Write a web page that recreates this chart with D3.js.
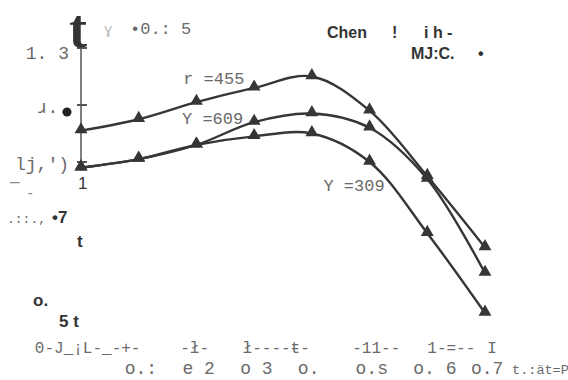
<!DOCTYPE html>
<html>
<head>
<meta charset="utf-8">
<script src="https://cdn.jsdelivr.net/npm/d3@7"></script>
<style>
  html, body { margin: 0; padding: 0; background: #fff; }
  svg { display: block; }
  .mono { font-family: "Liberation Mono", monospace; fill: #6a6a6a; white-space: pre; }
  .bold { font-family: "Liberation Sans", Arial, sans-serif; font-weight: bold; fill: #333; }
</style>
</head>
<body>
<div id="chart"></div>
<script>
// x values (0 .. 0.7) shared by every curve
const xValues = [0, 0.1, 0.2, 0.3, 0.4, 0.5, 0.6, 0.7];

// curves
const gamma45 = [1.01, 1.05, 1.11, 1.16, 1.20, 1.08, 0.85, 0.60];
const gamma60 = [0.88, 0.91, 0.96, 1.04, 1.07, 1.02, 0.84, 0.51];
const gamma30 = [0.88, 0.91, 0.96, 0.99, 1.00, 0.90, 0.65, 0.37];

const seriesNames = ['r =455', 'Y =609', 'Y =309'];

// tick labels as they came out of the scan
const xTickValues = [0.1, 0.2, 0.3, 0.4, 0.5, 0.6, 0.7];
const xTickLabels = ['o.:', 'e 2', 'o 3', 'o.', 'o.s', 'o. 6', 'o.7'];
const xAxisTitle = ' t.:ät=P';
const yTickValues = [1.3, 1.1, 0.9];
const yTickLabels = ['1. 3', 'ɹ..', 'lj,\')'];

// broken pieces of the x axis line
const axisPieceValues = [-0.08, 0.172, 0.28, 0.47, 0.6, 0.704];
const axisPieceLabels = ['0-J_¡L-_-+-', '-ł-', 'ł----ŧ-', '-11--', '1-=--', 'I'];

const width = 568, height = 380;

const svg = d3.select('#chart')
  .append('svg')
  .attr('width', width)
  .attr('height', height);

const x = d3.scaleLinear().domain([0, 0.7]).range([81, 485]);
const y = d3.scaleLinear().domain([0.2, 1.3]).range([361.5, 48]);

const ink = '#363636';

// y axis (only the upper part survived in the scan)
svg.append('line')
  .attr('x1', x(0)).attr('x2', x(0))
  .attr('y1', y(1.31)).attr('y2', y(0.87))
  .attr('stroke', '#555').attr('stroke-width', 1.5);

svg.selectAll('.ytick')
  .data(yTickValues)
  .enter()
  .append('line')
  .attr('class', 'ytick')
  .attr('x1', x(0) - 4).attr('x2', x(0) + 6)
  .attr('y1', d => y(d)).attr('y2', d => y(d))
  .attr('stroke', '#555').attr('stroke-width', 2);

svg.selectAll('.ylabel')
  .data(yTickValues)
  .enter()
  .append('text')
  .attr('class', 'mono')
  .attr('x', 69)
  .attr('y', (d, i) => y(d) + (i === 0 ? 11 : 8))
  .attr('text-anchor', 'end')
  .style('font-size', '18px')
  .text((d, i) => yTickLabels[i]);

// dot after the second label
svg.append('circle')
  .attr('cx', 67).attr('cy', y(1.1) + 7).attr('r', 4.5)
  .attr('fill', '#222');

svg.append('text').attr('class', 'bold')
  .attr('x', 78).attr('y', 189)
  .style('font-size', '17px').style('font-weight', 'normal')
  .text('1');

// lower left scraps
svg.append('text').attr('class', 'mono')
  .attr('x', 10).attr('y', 187).style('font-size', '16px').style('fill', '#888')
  .text('—');
svg.append('text').attr('class', 'mono')
  .attr('x', 26).attr('y', 198).style('font-size', '14px').style('fill', '#888')
  .text('-');
svg.append('text').attr('class', 'mono')
  .attr('x', 7).attr('y', y(0.7) + 4).style('font-size', '13px')
  .text('.::.,');
svg.append('text').attr('class', 'bold')
  .attr('x', 52).attr('y', y(0.7) + 4).style('font-size', '17px')
  .text('•7');
svg.append('text').attr('class', 'bold')
  .attr('x', 77).attr('y', 247).style('font-size', '17px')
  .text('t');
svg.append('text').attr('class', 'bold')
  .attr('x', 33).attr('y', 306).style('font-size', '17px')
  .text('o.');
svg.append('text').attr('class', 'bold')
  .attr('x', 59).attr('y', 327).style('font-size', '17px')
  .text('5  t');

// top of the axis: big arrow-like t
svg.append('text')
  .attr('x', 69).attr('y', 47)
  .style('font-family', '"Liberation Serif", serif')
  .style('font-weight', 'bold')
  .style('font-size', '54px')
  .attr('fill', '#333')
  .text('t');

svg.append('text').attr('class', 'mono')
  .attr('x', 104).attr('y', 34).style('font-size', '14px').style('fill', '#bbb')
  .text('ɣ');
svg.append('text').attr('class', 'mono')
  .attr('x', 130).attr('y', 34).style('font-size', '17px')
  .text('•0.: 5');

// top right title scraps
svg.append('text').attr('class', 'bold')
  .attr('x', 327).attr('y', 38).style('font-size', '16px')
  .text('Chen');
svg.append('text').attr('class', 'bold')
  .attr('x', 392).attr('y', 38).style('font-size', '16px')
  .text('!');
svg.append('text').attr('class', 'bold')
  .attr('x', 424).attr('y', 38).style('font-size', '16px')
  .text('i h -');
svg.append('text').attr('class', 'bold')
  .attr('x', 411).attr('y', 59).style('font-size', '16px')
  .text('MJ:C.');
svg.append('text').attr('class', 'bold')
  .attr('x', 478).attr('y', 59).style('font-size', '16px')
  .text('•');

// x axis pieces and tick labels
svg.selectAll('.axispiece')
  .data(axisPieceValues)
  .enter()
  .append('text')
  .attr('class', 'mono')
  .attr('x', d => x(d))
  .attr('y', 353)
  .style('font-size', '16px')
  .text((d, i) => axisPieceLabels[i]);

svg.selectAll('.xlabel')
  .data(xTickValues)
  .enter()
  .append('text')
  .attr('class', 'mono')
  .attr('x', d => x(d) - 14)
  .attr('y', 374)
  .style('font-size', '18px')
  .text((d, i) => xTickLabels[i]);

// squeezed axis title after the last tick label
svg.append('text')
  .attr('class', 'mono')
  .attr('x', x(0.7) + 19)
  .attr('y', 374)
  .style('font-size', '13.5px')
  .text(xAxisTitle);

// curves
const curves = [gamma45, gamma60, gamma30].map(vals =>
  xValues.map((xv, i) => ({ x: xv, y: vals[i] })));

const line = d3.line()
  .x(d => x(d.x))
  .y(d => y(d.y))
  .curve(d3.curveCatmullRom.alpha(0.5));

svg.selectAll('.curve')
  .data(curves)
  .enter()
  .append('path')
  .attr('class', 'curve')
  .attr('fill', 'none')
  .attr('stroke', ink)
  .attr('stroke-width', 2.4)
  .attr('d', line);

const tri = d3.symbol().type(d3.symbolTriangle).size(72);

curves.forEach(c => {
  svg.selectAll(null)
    .data(c)
    .enter()
    .append('path')
    .attr('d', tri)
    .attr('transform', d => 'translate(' + x(d.x) + ',' + (y(d.y) - 1) + ')')
    .attr('fill', ink);
});

// curve names
const namePos = [[0.177, 1.175], [0.175, 1.035], [0.42, 0.8]];
svg.selectAll('.cname')
  .data(seriesNames)
  .enter()
  .append('text')
  .attr('class', 'mono')
  .attr('x', (d, i) => x(namePos[i][0]))
  .attr('y', (d, i) => y(namePos[i][1]))
  .style('font-size', '17px')
  .text(d => d);
</script>
</body>
</html>
